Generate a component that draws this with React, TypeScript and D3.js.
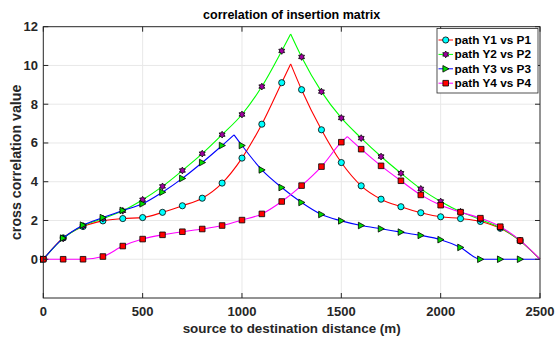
import React from "react";
import * as d3 from "d3";

// distances where markers sit (m)
const distances = [0, 100, 200, 300, 400, 500, 600, 700, 800, 900, 1000, 1100, 1200, 1300, 1400, 1500, 1600, 1700, 1800, 1900, 2000, 2100, 2200, 2300, 2400];
const endDistance = 2500;

const y1p1 = [0, 1.1, 1.69, 1.98, 2.1, 2.15, 2.42, 2.76, 3.15, 3.93, 5.22, 6.97, 9.11, 8.75, 6.68, 4.99, 3.79, 3.1, 2.71, 2.4, 2.19, 2.1, 1.95, 1.6, 0.95];
const y2p2 = [0, 1.08, 1.72, 2.1, 2.5, 3.07, 3.76, 4.58, 5.45, 6.43, 7.47, 8.91, 10.75, 10.44, 8.65, 7.29, 6.25, 5.3, 4.44, 3.63, 2.98, 2.45, 2.05, 1.62, 0.95];
const y3p3 = [0, 1.09, 1.76, 2.15, 2.52, 2.86, 3.46, 4.17, 4.99, 5.87, 5.87, 4.61, 3.7, 2.93, 2.31, 1.98, 1.74, 1.57, 1.4, 1.23, 1.01, 0.61, 0, 0, 0];
const y4p4 = [0, 0, 0, 0.14, 0.68, 1.04, 1.26, 1.42, 1.56, 1.74, 2.02, 2.34, 2.98, 3.8, 4.78, 6.04, 5.68, 4.82, 4.05, 3.32, 2.79, 2.43, 2.12, 1.68, 0.97];

// peak (unmarked corner) of each curve
const peakX = [1245, 1245, 960, 1530];
const peakY = [10.08, 11.62, 6.42, 6.33];

const seriesNames = ["path Y1 vs P1", "path Y2 vs P2", "path Y3 vs P3", "path Y4 vs P4"];
const lineColors = ["#ff0000", "#00ff00", "#0000ff", "#ff00ff"];
const markerFills = ["#00ffff", "#a000a0", "#00dd00", "#ff0000"];
const markerKinds = ["circle", "hexagram", "triangle", "square"];

const xTicks = [0, 500, 1000, 1500, 2000, 2500];
const yTicks = [0, 2, 4, 6, 8, 10, 12];

const W = 556;
const H = 340;
const left = 43.3;
const right = 540;
const top = 26.7;
const bottom = 298;
const font = "'Liberation Sans', Arial, Helvetica, sans-serif";
const axisColor = "#262626";

const x = d3.scaleLinear([0, 2500], [left, right]);
const y = d3.scaleLinear([-2, 12], [bottom, top]);

function markerPath(kind: string): string {
  if (kind === "circle") return d3.symbol(d3.symbolCircle, 30)()!;
  if (kind === "square") return "M-2.8,-2.8H2.8V2.8H-2.8Z";
  if (kind === "triangle") return "M-2.8,-3.3L3.3,0L-2.8,3.3Z";
  // six-pointed star
  const pts: [number, number][] = d3.range(12).map((i) => {
    const a = (i * Math.PI) / 6 - Math.PI / 2;
    const r = i % 2 === 0 ? 3.4 : 2;
    return [r * Math.cos(a), r * Math.sin(a)];
  });
  return "M" + pts.map((p) => p.join(",")).join("L") + "Z";
}

function Marker({ kind, fill, cx, cy }: { kind: string; fill: string; cx: number; cy: number }) {
  return (
    <path
      d={markerPath(kind)}
      transform={`translate(${cx},${cy})`}
      fill={fill}
      stroke="#000"
      strokeWidth={0.8}
    />
  );
}

export default function App() {
  const allSeries = [y1p1, y2p2, y3p3, y4p4];
  const line = d3
    .line<[number, number]>()
    .x((d) => x(d[0]))
    .y((d) => y(d[1]))
    .curve(d3.curveMonotoneX);

  return (
    <svg width={W} height={H} style={{ position: "absolute", left: 0, top: 0, background: "#fff" }} fontFamily={font}>
      {/* grid */}
      {xTicks.slice(1, -1).map((t) => (
        <line key={"gx" + t} x1={x(t)} x2={x(t)} y1={top} y2={bottom} stroke="#e8e8e8" strokeWidth={1} />
      ))}
      {yTicks.slice(0, -1).map((t) => (
        <line key={"gy" + t} x1={left} x2={right} y1={y(t)} y2={y(t)} stroke="#e8e8e8" strokeWidth={1} />
      ))}

      {/* series */}
      {allSeries.map((vals, s) => {
        const pts: [number, number][] = distances.map((d, i) => [d, vals[i]]);
        const rise = pts.filter((p) => p[0] < peakX[s]).concat([[peakX[s], peakY[s]]]);
        const fall = ([[peakX[s], peakY[s]]] as [number, number][])
          .concat(pts.filter((p) => p[0] > peakX[s]))
          .concat([[endDistance, 0]]);
        return (
          <g key={"s" + s}>
            <path d={line(rise)!} fill="none" stroke={lineColors[s]} strokeWidth={1.1} />
            <path d={line(fall)!} fill="none" stroke={lineColors[s]} strokeWidth={1.1} />
            {pts.map((p, i) => (
              <Marker key={i} kind={markerKinds[s]} fill={markerFills[s]} cx={x(p[0])} cy={y(p[1])} />
            ))}
          </g>
        );
      })}

      {/* box */}
      <rect x={left} y={top} width={right - left} height={bottom - top} fill="none" stroke={axisColor} strokeWidth={1} />

      {/* ticks */}
      {xTicks.map((t) => (
        <g key={"tx" + t}>
          <line x1={x(t)} x2={x(t)} y1={bottom} y2={bottom - 5} stroke={axisColor} />
          <line x1={x(t)} x2={x(t)} y1={top} y2={top + 5} stroke={axisColor} />
          <text x={x(t)} y={316} textAnchor="middle" fontSize={13} fontWeight="bold" fill={axisColor}>
            {t}
          </text>
        </g>
      ))}
      {yTicks.map((t) => (
        <g key={"ty" + t}>
          <line x1={left} x2={left + 5} y1={y(t)} y2={y(t)} stroke={axisColor} />
          <line x1={right} x2={right - 5} y1={y(t)} y2={y(t)} stroke={axisColor} />
          <text x={38} y={y(t) + 4.5} textAnchor="end" fontSize={13} fontWeight="bold" fill={axisColor}>
            {t}
          </text>
        </g>
      ))}

      {/* labels */}
      <text x={(left + right) / 2} y={19} textAnchor="middle" fontSize={12.5} fontWeight="bold" fill="#000">
        correlation of insertion matrix
      </text>
      <text x={(left + right) / 2} y={333} textAnchor="middle" fontSize={13.4} fontWeight="bold" fill={axisColor}>
        source to destination distance (m)
      </text>
      <text
        transform={`translate(20.5,${(top + bottom) / 2}) rotate(-90)`}
        textAnchor="middle"
        fontSize={14.2}
        fontWeight="bold"
        fill={axisColor}
      >
        cross correlation value
      </text>

      {/* legend */}
      <g>
        <rect x={437} y={28.5} width={101} height={64.5} fill="#fff" stroke={axisColor} strokeWidth={0.8} />
        {seriesNames.map((name, s) => {
          const ry = 40 + s * 14.4;
          return (
            <g key={"l" + s}>
              <line x1={438.5} x2={453} y1={ry} y2={ry} stroke={lineColors[s]} strokeWidth={1} />
              <Marker kind={markerKinds[s]} fill={markerFills[s]} cx={445.7} cy={ry} />
              <text x={454.5} y={ry + 4} fontSize={11.8} fontWeight="bold" fill="#000">
                {name}
              </text>
            </g>
          );
        })}
      </g>
    </svg>
  );
}
